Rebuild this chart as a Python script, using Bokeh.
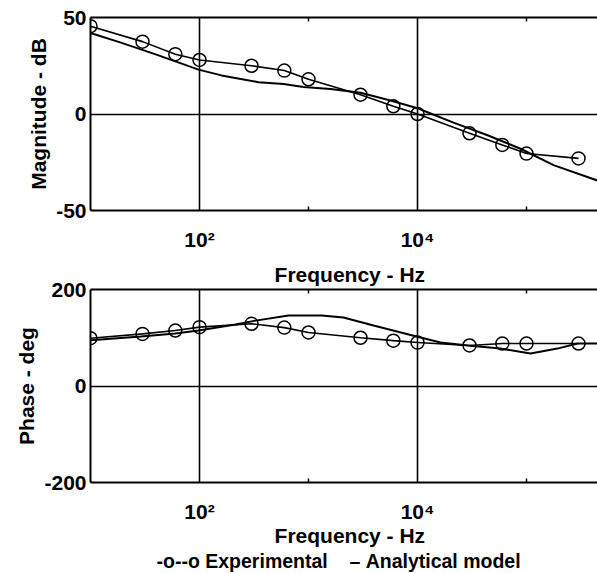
from bokeh.plotting import figure
from bokeh.models import FixedTicker, LogAxis, Title
from bokeh.layouts import column
from bokeh.embed import file_html
from bokeh.resources import INLINE

# Experimental data (Hz, dB, deg)
exp_freq = [10, 30, 60, 100, 300, 600, 1000, 3000, 6000, 10000, 30000, 60000, 100000, 300000]
exp_mag = [45.5, 37.5, 31, 28, 25, 22.5, 18, 10, 4, 0, -10, -16, -20.5, -23]
exp_phase = [99, 108, 115, 122, 129, 121, 111, 100, 94, 90, 84, 88, 88, 88]

# Analytical model
mod_mag_freq = [10, 19, 39, 98, 159, 348, 590, 900, 1590, 3000, 5650, 10000, 21400, 43900, 88100, 177000, 448000]
mod_mag = [42, 37, 31, 23, 20, 16.5, 15.5, 14, 13, 11, 7, 3, -4.5, -11, -18, -26.5, -34.5]
mod_ph_freq = [10, 29, 60, 98, 214, 327, 656, 1320, 2090, 3950, 10000, 16300, 28800, 57700, 109000, 192000, 294000, 448000]
mod_phase = [95, 102.5, 109, 115, 127.5, 135.5, 146, 146, 142, 125.5, 102, 90, 84, 77.5, 67.5, 77.5, 88, 88]

x_major = [100, 10000]
x_minor = [1000, 100000]
x_labels = {100: "10\u00b2", 10000: "10\u2074"}
mag_ticks = [-50, 0, 50]
mag_labels = {-50: "-50", 0: "0", 50: "50"}
phase_ticks = [-200, 0, 200]
phase_labels = {-200: "-200", 0: "0", 200: "200"}
x_title = "\u00a0\u00a0Frequency - Hz"
legend_text = "-o--o Experimental\u00a0\u00a0\u00a0\u00a0\u2013\u00a0Analytical model\u00a0\u00a0"

FONT = "Liberation Sans"
FS = "21px"


def style_axis(ax):
    ax.axis_line_color = "black"
    ax.axis_line_width = 2
    ax.major_tick_in = 0
    ax.major_tick_out = 0
    ax.major_label_text_font = FONT
    ax.major_label_text_font_size = FS
    ax.major_label_text_font_style = "bold"
    ax.major_label_text_color = "black"
    ax.axis_label_text_font = FONT
    ax.axis_label_text_font_size = FS
    ax.axis_label_text_font_style = "bold"
    ax.axis_label_text_color = "black"


def make_fig(yr, yticks, ylabels, ylabel, top_border, bottom_border, xstandoff):
    p = figure(x_axis_type="log", x_range=(10, 4.48e5), y_range=yr,
               frame_width=507, frame_height=193,
               min_border_left=90, min_border_right=0, min_border_top=top_border,
               min_border_bottom=bottom_border,
               output_backend="svg", toolbar_location=None)
    p.outline_line_color = None
    p.background_fill_color = "white"
    p.border_fill_color = "white"

    xa = p.below[0]
    xa.ticker = FixedTicker(ticks=x_major, minor_ticks=x_minor)
    xa.major_label_overrides = x_labels
    style_axis(xa)
    xa.minor_tick_in = 4
    xa.minor_tick_out = 0
    xa.minor_tick_line_width = 1.5
    xa.minor_tick_line_color = "black"
    xa.major_label_standoff = xstandoff

    top = LogAxis(ticker=FixedTicker(ticks=x_major, minor_ticks=x_minor))
    style_axis(top)
    top.major_label_text_font_size = "1px"
    top.major_label_text_alpha = 0
    top.major_label_standoff = 0
    top.minor_tick_in = 4
    top.minor_tick_out = 0
    top.minor_tick_line_width = 1.5
    top.minor_tick_line_color = "black"
    p.add_layout(top, "above")

    ya = p.left[0]
    ya.ticker = FixedTicker(ticks=yticks)
    ya.major_label_overrides = ylabels
    style_axis(ya)
    ya.minor_tick_line_color = None
    ya.major_label_standoff = 4
    ya.axis_label = ylabel
    ya.axis_label_standoff = 3

    p.xgrid.ticker = FixedTicker(ticks=x_major)
    p.ygrid.ticker = FixedTicker(ticks=[0])
    for g in (p.xgrid[0], p.ygrid[0]):
        g.grid_line_color = "black"
        g.grid_line_width = 1.6
        g.grid_line_alpha = 1.0
    return p, xa


p1, xa1 = make_fig((-50, 50), mag_ticks, mag_labels, "Magnitude - dB", 17, 44, 17)
p1.line(mod_mag_freq, mod_mag, line_color="black", line_width=2)
p1.line(exp_freq, exp_mag, line_color="black", line_width=1.6)
p1.scatter(exp_freq, exp_mag, marker="circle", size=13, fill_color=None,
           line_color="black", line_width=1.5)

p2, xa2 = make_fig((-200, 200), phase_ticks, phase_labels, "Phase - deg", 35, 91, 17)
# x-axis title of the upper panel, drawn in the lower panel's top band
t_top = Title(text=x_title, align="center", text_font=FONT,
              text_font_size=FS, text_font_style="bold", text_color="black",
              standoff=8, offset=0)
p2.add_layout(t_top, "above")
p2.line(mod_ph_freq, mod_phase, line_color="black", line_width=2)
p2.line(exp_freq, exp_phase, line_color="black", line_width=1.6)
p2.scatter(exp_freq, exp_phase, marker="circle", size=13, fill_color=None,
           line_color="black", line_width=1.5)
xa2.axis_label = x_title
xa2.axis_label_standoff = -2

t = Title(text=legend_text, align="center", text_font=FONT, text_font_size="19.5px",
          text_font_style="bold", text_color="black", standoff=-3, offset=0)
p2.add_layout(t, "below")

layout = column(p1, p2, spacing=0)
open("out.html", "w").write(file_html(layout, INLINE))
